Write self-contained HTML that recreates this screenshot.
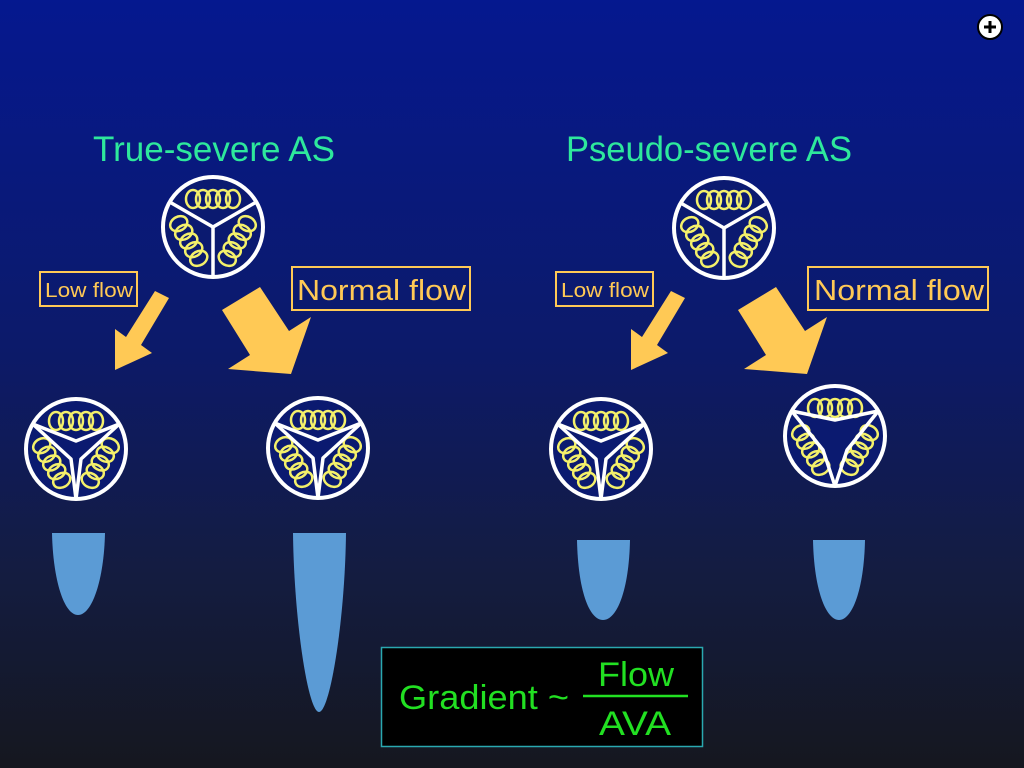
<!DOCTYPE html>
<html><head><meta charset="utf-8"><style>
html,body{margin:0;padding:0;width:1024px;height:768px;overflow:hidden}
svg{display:block}
</style></head><body>
<svg width="1024" height="768" viewBox="0 0 1024 768" xmlns="http://www.w3.org/2000/svg">
<defs>
<linearGradient id="bg" x1="0" y1="0" x2="0" y2="1">
<stop offset="0" stop-color="#05188f"/>
<stop offset="0.45" stop-color="#0c1a6a"/>
<stop offset="0.75" stop-color="#141c40"/>
<stop offset="1" stop-color="#15171f"/>
</linearGradient>
<g id="coil" fill="none" stroke="#f4f06a" stroke-width="2.5">
<ellipse cx="-20" cy="0" rx="7" ry="9"/>
<ellipse cx="-10" cy="0" rx="7" ry="9"/>
<ellipse cx="0" cy="0" rx="7" ry="9"/>
<ellipse cx="10" cy="0" rx="7" ry="9"/>
<ellipse cx="20" cy="0" rx="7" ry="9"/>
</g>
<g id="coils">
<use href="#coil" transform="translate(0,-28)"/>
<use href="#coil" transform="rotate(120) translate(0,-28)"/>
<use href="#coil" transform="rotate(240) translate(0,-28)"/>
</g>
<g id="valve">
<circle r="50" fill="#0b1a70" stroke="#fff" stroke-width="4"/>
<use href="#coils"/>
<g stroke="#fff" stroke-width="3.5" fill="none">
<line x1="0" y1="0" x2="0" y2="50"/>
<line x1="0" y1="0" x2="-43.3" y2="-25"/>
<line x1="0" y1="0" x2="43.3" y2="-25"/>
</g>
</g>
<g id="valve2">
<circle r="50" fill="#0b1a70" stroke="#fff" stroke-width="4"/>
<use href="#coils"/>
<g stroke="#fff" stroke-width="3.5" fill="none" stroke-linejoin="round">
<polyline points="0,50 -5,10 -43.3,-25"/>
<polyline points="-43.3,-25 0,-8 43.3,-25"/>
<polyline points="43.3,-25 5,10 0,50"/>
</g>
</g>
<g id="valve3">
<circle r="50" fill="#0b1a70" stroke="#fff" stroke-width="4"/>
<use href="#coils"/>
<g stroke="#fff" stroke-width="3.5" fill="none" stroke-linejoin="round">
<polyline points="0,50 -12,14 -43.3,-25"/>
<polyline points="-43.3,-25 0,-16 43.3,-25"/>
<polyline points="43.3,-25 12,14 0,50"/>
</g>
</g>
<g id="arrows" fill="#ffc955">
<polygon points="155,291 169,298 141,345 152,353 115,370 115,329 126,337"/>
<polygon points="222,310 260,287 289,331 311,317 291,374 228,369 250,355"/>
</g>
</defs>
<rect width="1024" height="768" fill="url(#bg)"/>

<circle cx="990" cy="27" r="12" fill="#fff" stroke="#000" stroke-width="2"/>
<path d="M984 27h12M990 21v12" stroke="#000" stroke-width="3"/>

<g font-family="'Liberation Sans',sans-serif" fill="#2ee89c" font-size="35">
<text x="93" y="161" textLength="242" lengthAdjust="spacingAndGlyphs">True-severe AS</text>
<text x="566" y="161" textLength="286" lengthAdjust="spacingAndGlyphs">Pseudo-severe AS</text>
</g>

<use href="#valve" transform="translate(213,227)"/>
<use href="#valve" transform="translate(724,228)"/>
<use href="#valve2" transform="translate(76,449)"/>
<use href="#valve2" transform="translate(318,448)"/>
<use href="#valve2" transform="translate(601,449)"/>
<use href="#valve3" transform="translate(835,436)"/>

<use href="#arrows"/>
<use href="#arrows" transform="translate(516,0)"/>

<g font-family="'Liberation Sans',sans-serif" fill="#ffc955">
<rect x="40" y="272" width="97" height="34" fill="none" stroke="#ffc955" stroke-width="2"/>
<text x="45" y="297" font-size="20" textLength="88" lengthAdjust="spacingAndGlyphs">Low flow</text>
<rect x="292" y="267" width="178" height="43" fill="none" stroke="#ffc955" stroke-width="2"/>
<text x="297" y="300" font-size="29" textLength="169" lengthAdjust="spacingAndGlyphs">Normal flow</text>
<rect x="556" y="272" width="97" height="34" fill="none" stroke="#ffc955" stroke-width="2"/>
<text x="561" y="297" font-size="20" textLength="88" lengthAdjust="spacingAndGlyphs">Low flow</text>
<rect x="808" y="267" width="180" height="43" fill="none" stroke="#ffc955" stroke-width="2"/>
<text x="814" y="300" font-size="29" textLength="170" lengthAdjust="spacingAndGlyphs">Normal flow</text>
</g>

<g fill="#5b9bd5">
<path d="M52 533 H105 C104 580 92 615 78 615 C64 615 53 580 52 533Z"/>
<path d="M293 533 H346 C345 620 330 712 319 712 C308 712 294 620 293 533Z"/>
<path d="M577 540 H630 C629 590 617 620 603 620 C589 620 578 590 577 540Z"/>
<path d="M813 540 H865 C864 590 852 620 839 620 C826 620 814 590 813 540Z"/>
</g>

<rect x="381.5" y="647.5" width="321" height="99" fill="#000" stroke="#2aa8b0" stroke-width="1.5"/>
<g font-family="'Liberation Sans',sans-serif" fill="#22e022" font-size="34">
<text x="399" y="709" textLength="170" lengthAdjust="spacingAndGlyphs">Gradient ~</text>
<text x="598" y="686" textLength="76" lengthAdjust="spacingAndGlyphs">Flow</text>
<text x="599" y="735" textLength="72" lengthAdjust="spacingAndGlyphs">AVA</text>
</g>
<line x1="583" y1="696" x2="688" y2="696" stroke="#22e022" stroke-width="2.5"/>
</svg>
</body></html>
